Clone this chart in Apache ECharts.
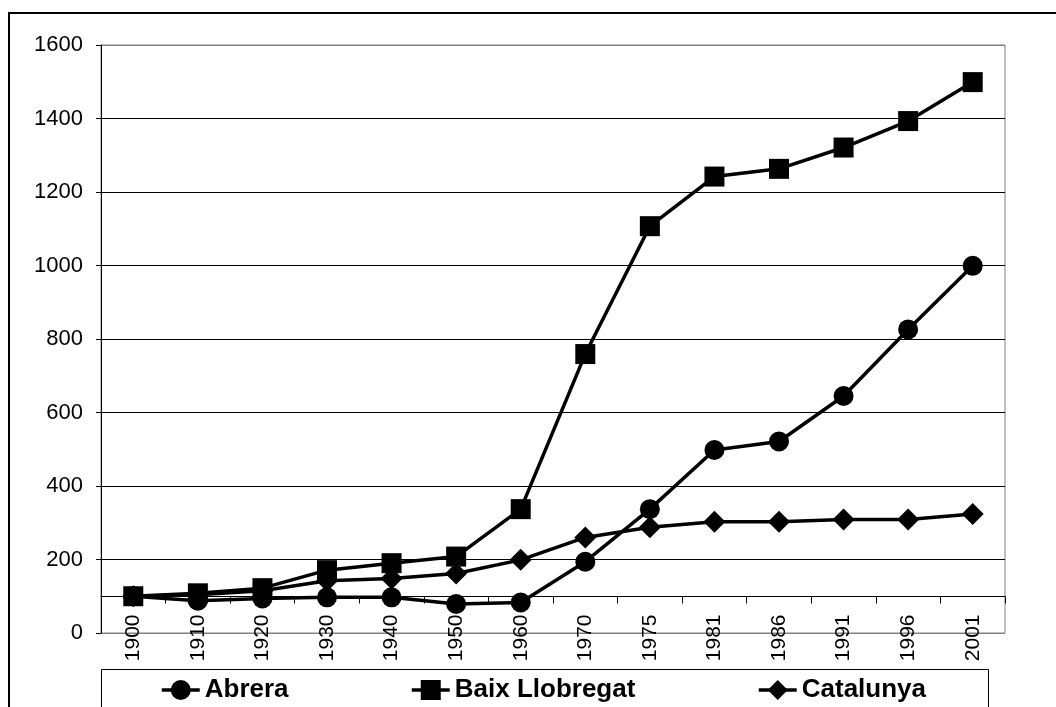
<!DOCTYPE html>
<html>
<head>
<meta charset="utf-8">
<script src="https://cdn.jsdelivr.net/npm/echarts@6/dist/echarts.min.js"></script>
<style>
html,body{margin:0;padding:0;background:#fff;}
#chart{width:1056px;height:707px;}
</style>
</head>
<body>
<div id="chart"></div>
<script>
const categories = ['1900','1910','1920','1930','1940','1950','1960','1970','1975','1981','1986','1991','1996','2001'];
const abrera = [100, 88, 94, 97, 97, 79, 83, 194, 337, 498, 521, 645, 826, 999];
const baixLlobregat = [100, 108, 122, 171, 190, 208, 337, 759, 1107, 1242, 1263, 1321, 1393, 1499];
const catalunya = [100, 104, 115, 142, 148, 162, 199, 260, 288, 303, 303, 309, 309, 324];
const yTicks = { min: 0, max: 1600, interval: 200 };

const FONT = 'Liberation Sans, Arial, sans-serif';
const chart = echarts.init(document.getElementById('chart'), null, { renderer: 'canvas' });

function lineSeries(name, data, symbol, size) {
  return {
    name: name,
    type: 'line',
    xAxisIndex: 0,
    yAxisIndex: 0,
    data: data,
    symbol: symbol,
    symbolSize: size,
    showAllSymbol: true,
    lineStyle: { color: '#000', width: 3.5 },
    itemStyle: { color: '#000' },
    animation: false
  };
}

function legendFor(name, left) {
  return {
    data: [name],
    left: left,
    top: 677,
    padding: 0,
    itemWidth: 38,
    itemHeight: 25,
    selectedMode: false,
    lineStyle: { color: '#000', width: 3.5 },
    itemStyle: { color: '#000' },
    textStyle: { fontFamily: FONT, fontSize: 26, fontWeight: 'bold', color: '#000' }
  };
}

const option = {
  backgroundColor: '#fff',
  animation: false,
  graphic: [
    { type: 'rect', z: 0, shape: { x: 9, y: 13, width: 1100, height: 800 }, style: { fill: 'none', stroke: '#000', lineWidth: 2 } },
    { type: 'rect', z: 0, shape: { x: 101.5, y: 669.5, width: 887, height: 100 }, style: { fill: 'none', stroke: '#000', lineWidth: 1 } }
  ],
  legend: [
    legendFor('Abrera', 160),
    legendFor('Baix Llobregat', 410),
    legendFor('Catalunya', 757)
  ],
  grid: [
    { left: 101, top: 45, right: 51, bottom: 74, show: true, borderColor: '#808080', borderWidth: 1, backgroundColor: 'transparent' },
    { left: 101, top: 45, right: 51, bottom: 110.5, show: false }
  ],
  xAxis: [
    {
      gridIndex: 0, type: 'category', data: categories, boundaryGap: true,
      axisLine: { show: false }, axisTick: { show: false }, axisLabel: { show: false }, splitLine: { show: false }
    },
    {
      gridIndex: 1, type: 'category', data: categories, boundaryGap: true,
      axisLine: { show: true, onZero: false, lineStyle: { color: '#000', width: 1 } },
      axisTick: { show: true, inside: false, length: 7, interval: 0, lineStyle: { color: '#000' } },
      axisLabel: { show: true, interval: 0, rotate: 90, margin: 18, fontFamily: FONT, fontSize: 21, color: '#000' },
      splitLine: { show: false }
    }
  ],
  yAxis: [
    {
      gridIndex: 0, type: 'value', min: yTicks.min, max: yTicks.max, interval: yTicks.interval,
      axisLine: { show: true, lineStyle: { color: '#000', width: 1 } },
      axisTick: { show: true, inside: false, length: 5, lineStyle: { color: '#000' } },
      axisLabel: { show: true, margin: 18, fontFamily: FONT, fontSize: 22, color: '#000', formatter: function (v) { return String(v); } },
      splitLine: { show: true, lineStyle: { color: ['#808080','#000','#000','#000','#000','#000','#000','#000','#808080'], width: 1 } }
    },
    { gridIndex: 1, type: 'value', show: false, min: 0, max: 1 }
  ],
  series: [
    lineSeries('Abrera', abrera, 'circle', 20),
    lineSeries('Baix Llobregat', baixLlobregat, 'rect', 20),
    lineSeries('Catalunya', catalunya, 'diamond', 22)
  ]
};
chart.setOption(option);
</script>
</body>
</html>
